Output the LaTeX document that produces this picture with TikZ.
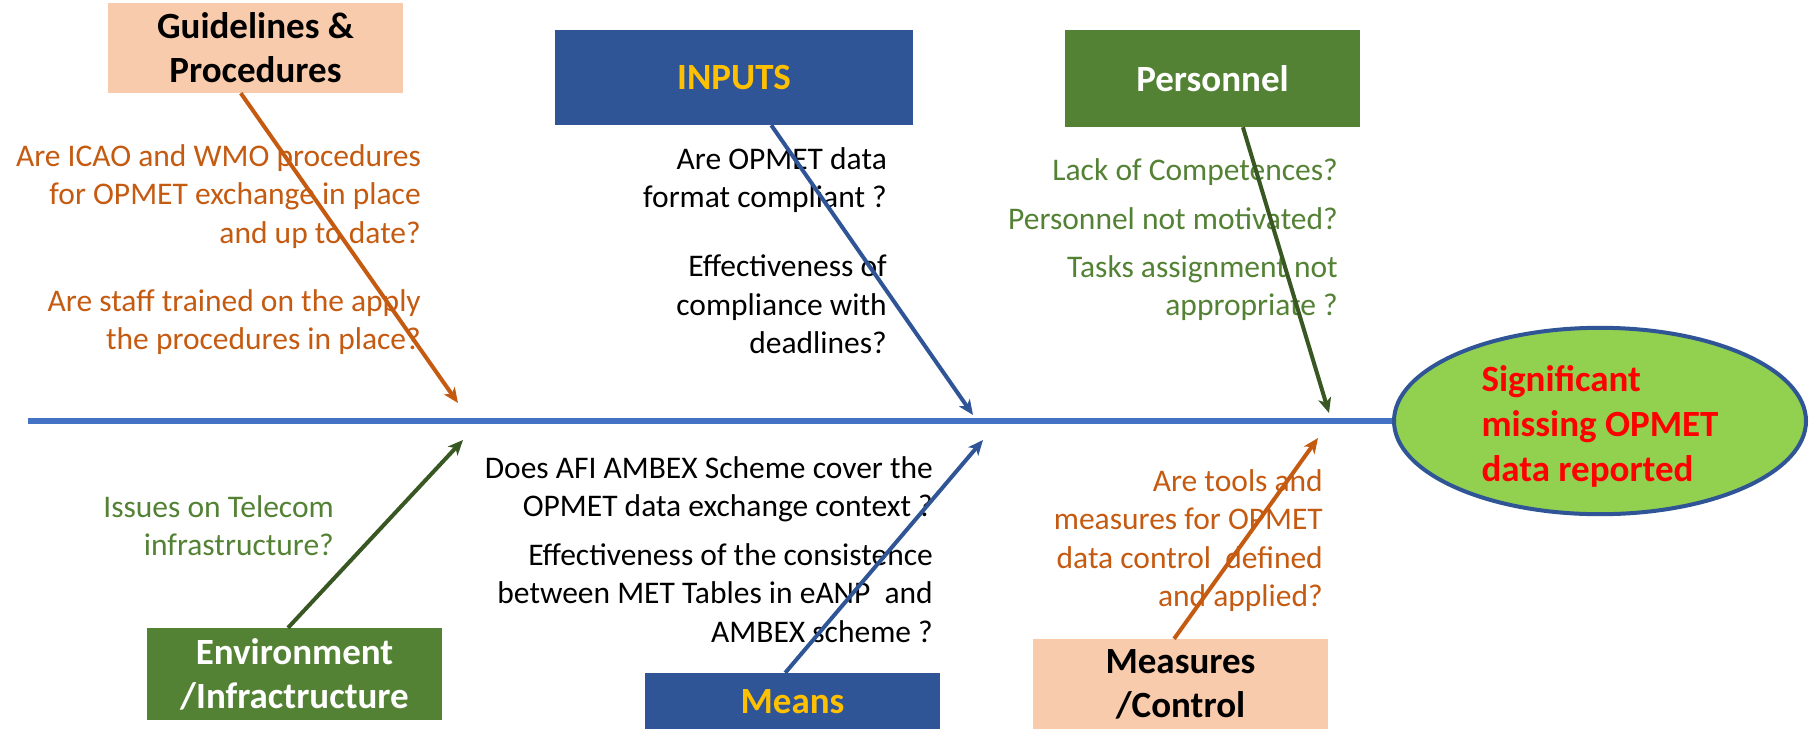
\documentclass[tikz,border=0pt]{standalone}
\usepackage{fontspec}
\setmainfont{Carlito}
\usepackage{tikz}
\usetikzlibrary{shapes.geometric}
\usetikzlibrary{arrows.meta}
\definecolor{peach}{HTML}{F8CBAD}
\definecolor{boxblue}{HTML}{2F5597}
\definecolor{gold}{HTML}{FFC000}
\definecolor{boxgreen}{HTML}{548235}
\definecolor{spineblue}{HTML}{4472C4}
\definecolor{rust}{HTML}{C55A11}
\definecolor{darkgreen}{HTML}{385723}
\definecolor{lime}{HTML}{92D050}
\tikzset{
    cause/.style={rectangle, inner sep=0pt, minimum width=295pt, align=center, font=\fontsize{37}{44}\selectfont\bfseries},
    question/.style={anchor=north east, inner sep=0pt, align=right, font=\fontsize{31.5}{38.5}\selectfont},
    bone/.style={line width=4pt, -{Stealth[length=15pt, width=13pt, inset=4pt]}}}

\begin{document}
\begin{tikzpicture}[x=1pt, y=-1pt]
        \path[fill=white, use as bounding box] (0,0) rectangle (1817,728);

            \node[cause, fill=peach, minimum height=90pt] (guide) at (255.5,48) {Guidelines \&\\Procedures};
            \node[cause, fill=boxblue, text=gold, minimum width=358pt, minimum height=95pt] (inputs) at (734,77.5) {INPUTS};
            \node[cause, fill=boxgreen, text=white, minimum height=97pt] (staff) at (1212.5,78.5) {Personnel};
            \node[cause, fill=boxgreen, text=white, minimum height=92pt] (env) at (294.5,674) {Environment\\/Infractructure};
            \node[cause, fill=boxblue, text=gold, minimum height=58pt] (means) at (792.5,702) {Means};
            \node[cause, fill=peach, minimum height=91pt] (control) at (1180.5,684.5) {Measures\\/Control};

            \coordinate (tail) at (28,421);
            \node[ellipse, draw=boxblue, line width=4pt, fill=lime, text=red, inner sep=0pt, minimum width=412pt, minimum height=170pt, align=left, font=\fontsize{37}{45}\selectfont\bfseries] (effect) at (1600,421) {\rule{0pt}{36pt}Significant\\missing OPMET\hspace*{14pt}\\data reported};
            \draw[spineblue, line width=6pt] (tail) -- (effect.west);

            \node[question, text=rust] (g1) at (421,144) {Are ICAO and WMO procedures\\for OPMET exchange in place\\and up to date?};
            \node[question, text=rust] (g2) at (421,289) {Are staff trained on the apply\\the procedures in place?};
            \node[question] (i1) at (887,147) {Are OPMET data\\format compliant ?};
            \node[question] (i2) at (887,255) {Effectiveness of\\compliance with\\deadlines?};
            \node[question, text=boxgreen] (p1) at (1338,158) {Lack of Competences?};
            \node[question, text=boxgreen] (p2) at (1338,207) {Personnel not motivated?};
            \node[question, text=boxgreen] (p3) at (1338,255) {Tasks assignment not\\appropriate ?};
            \node[question, text=boxgreen] (e1) at (334,495) {Issues on Telecom\\infrastructure?};
            \node[question] (m1) at (933,456) {Does AFI AMBEX Scheme cover the\\OPMET data exchange context ?};
            \node[question] (m2) at (933,543) {Effectiveness of the consistence\\between MET Tables in eANP\ \ and\\AMBEX scheme ?};
            \node[question, text=rust] (c1) at (1323,469) {Are tools and\\measures for OPMET\\data control\ \ defined\\and applied?};

            \coordinate (gtip) at (458,403);
            \coordinate (itip) at (973,415);
            \coordinate (ptip) at (1329,413);
            \coordinate (etip) at (463,440);
            \coordinate (mtip) at (983,440);
            \coordinate (ctip) at (1318,438);

            \draw[bone, rust] (guide.252) -- (gtip);
            \draw[bone, boxblue] (inputs.308) -- (itip);
            \draw[bone, darkgreen] (staff.302) -- (ptip);
            \draw[bone, darkgreen] (env.98) -- (etip);
            \draw[bone, boxblue] (means.104) -- (mtip);
            \draw[bone, rust] (control.98) -- (ctip);

        \end{tikzpicture}
\end{document}
